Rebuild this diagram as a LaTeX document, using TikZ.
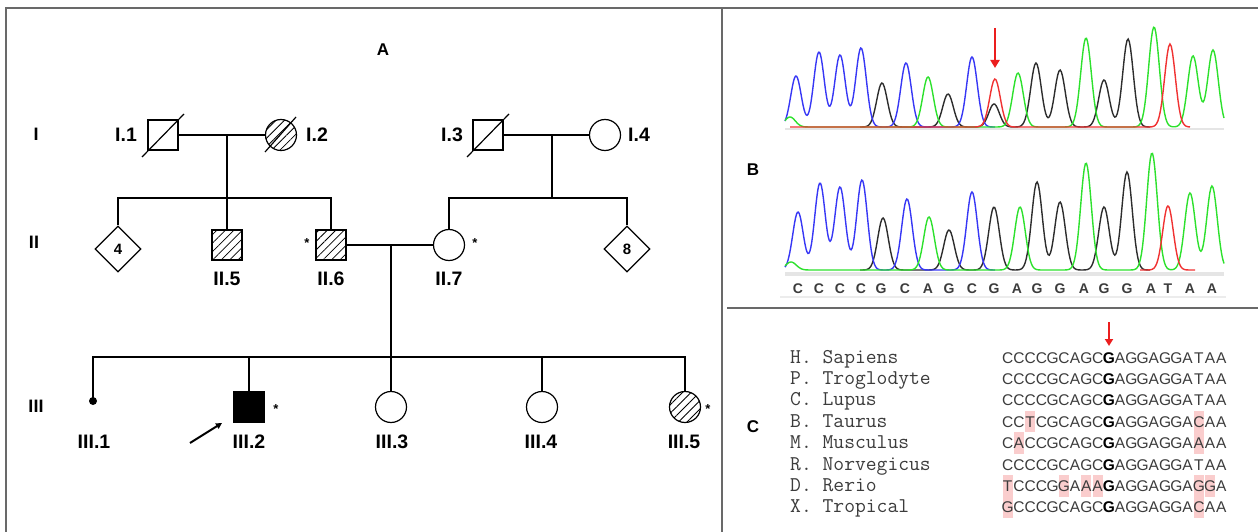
\documentclass[tikz,border=0pt]{standalone}
\usepackage{fontspec}
\setmainfont{Liberation Sans}
\usetikzlibrary{shapes.geometric,arrows.meta,patterns.meta}
\definecolor{framec}{RGB}{105,105,105}
\definecolor{chB}{RGB}{55,55,245}
\definecolor{chG}{RGB}{45,225,45}
\definecolor{chK}{RGB}{45,45,45}
\definecolor{chR}{RGB}{240,50,50}
\definecolor{txt}{RGB}{60,60,60}
\definecolor{hl}{RGB}{250,205,205}
\definecolor{arrred}{RGB}{235,30,30}
\begin{document}
\begin{tikzpicture}[x=1pt,y=-1pt,
  declare function={pk(\xa,\xb,\xc)=\xc*exp(-min(((\xa-\xb)/7.5)^2,30));},
  ped/.style={line width=1.2pt, draw=black},
  male/.style={ped, rectangle, minimum size=30pt, inner sep=0pt},
  female/.style={ped, circle, minimum size=31pt, inner sep=0pt},
  unk/.style={ped, diamond, minimum width=46pt, minimum height=46pt, inner sep=0pt, font=\bfseries\fontsize{15}{15}\selectfont},
  hatch/.style={pattern={Lines[angle=45,distance=6pt,line width=0.8pt]}},
  lbl/.style={font=\bfseries\fontsize{19.5}{19.5}\selectfont, inner sep=0pt},
  gen/.style={font=\bfseries\fontsize{18}{18}\selectfont, inner sep=0pt},
  star/.style={font=\bfseries\fontsize{13}{13}\selectfont, inner sep=0pt},
  panel/.style={font=\bfseries\fontsize{17}{17}\selectfont, inner sep=0pt},
  chrom/.style={line width=1.4pt},
  baseltr/.style={font=\bfseries\fontsize{14}{14}\selectfont, text=txt, inner sep=0pt, anchor=base},
  spec/.style={font=\ttfamily\fontsize{21}{21}\selectfont\addfontfeature{FakeBold=0.6}, text=txt, inner sep=0pt, anchor=base west},
  seqch/.style={font=\fontsize{15.5}{15.5}\selectfont, text=txt, inner sep=0pt, anchor=base},
  redarrow/.style={draw=arrred, line width=2.5pt, -{Triangle[length=8pt,width=9pt]}},
  frame/.style={draw=framec, line width=2.5pt}
]
\useasboundingbox (0,0) rectangle (1258,532);

% ---------- frame ----------
\draw[frame] (6,534) -- (6,8) -- (1260,8);
\draw[frame] (722,8) -- (722,534);
\draw[frame] (727,308) -- (1260,308);

% ---------- Panel A : pedigree ----------
\node[panel] (tA) at (383,50) {A};
\node[gen] (gI) at (36,134) {I};
\node[gen] (gII) at (34,242) {II};
\node[gen] (gIII) at (36,406) {III};

% generation I
\node[male] (I1) at (163,135) {};
\node[female, hatch] (I2) at (281,135) {};
\node[male] (I3) at (488,135) {};
\node[female] (I4) at (605,135) {};
\draw[ped] ([shift={(-21,22)}]I1.center) -- ([shift={(21,-21)}]I1.center);
\draw[ped] ([shift={(-21,22)}]I3.center) -- ([shift={(21,-21)}]I3.center);
\draw[ped] ([shift={(-16,17)}]I2.center) -- ([shift={(15,-18)}]I2.center);
\node[lbl] (lI1) at (126,135) {I.1};
\node[lbl] (lI2) at (317,135) {I.2};
\node[lbl] (lI3) at (452,135) {I.3};
\node[lbl] (lI4) at (639,135) {I.4};

% generation II
\node[unk] (D4) at (118,249) {4};
\node[male, hatch] (II5) at (227,245) {};
\node[male, hatch] (II6) at (331,245) {};
\node[female] (II7) at (449,245) {};
\node[unk] (D8) at (627,249) {8};
\node[lbl] (lII5) at (227,279) {II.5};
\node[lbl] (lII6) at (331,279) {II.6};
\node[lbl] (lII7) at (449,279) {II.7};
\node[star] (sII6) at (307,243) {*};
\node[star] (sII7) at (475,243) {*};

% generation III
\node[circle, fill=black, minimum size=8pt, inner sep=0pt] (III1) at (93,401) {};
\node[male, fill=black] (III2) at (249,407) {};
\node[female] (III3) at (391,407) {};
\node[female] (III4) at (542,407) {};
\node[female, hatch] (III5) at (685,407) {};
\node[lbl] (lIII1) at (94,442) {III.1};
\node[lbl] (lIII2) at (249,442) {III.2};
\node[lbl] (lIII3) at (392,442) {III.3};
\node[lbl] (lIII4) at (541,442) {III.4};
\node[lbl] (lIII5) at (684,442) {III.5};
\node[star] (sIII2) at (276,409) {*};
\node[star] (sIII5) at (708,409) {*};

% connectors
\coordinate (m1) at (227,135);
\coordinate (s1) at (227,198);
\coordinate (m2) at (552,135);
\coordinate (s2) at (552,198);
\coordinate (m3) at (391,245);
\coordinate (s3) at (391,357);
\draw[ped] (I1.east) -- (I2.west);
\draw[ped] (I3.east) -- (I4.west);
\draw[ped] (II6.east) -- (II7.west);
\draw[ped] (m1) -- (II5.north);
\draw[ped] (D4.north) |- (s1) -| (II6.north);
\draw[ped] (m2) -- (s2);
\draw[ped] (II7.north) |- (s2) -| (D8.north);
\draw[ped] (m3) -- (III3.north);
\draw[ped] (III1.center) |- (s3) -| (III5.north);
\draw[ped] (III2.north) -- (III2.north |- s3);
\draw[ped] (III4.north) -- (III4.north |- s3);
\coordinate (pa) at (190,443);
\coordinate (pb) at (222,423);
\draw[line width=2pt, -{Triangle[length=6pt,width=6pt]}] (pa) -- (pb);

% ---------- Panel B : chromatograms ----------
\node[panel] (tB) at (753,170) {B};
% top (patient)
\draw[gray!20, line width=2pt] (785,129) -- (1224,129);
\draw[chK, chrom] plot[domain=860:1150, samples=240] (\x, {127-pk(\x,882,44)-pk(\x,948,33)-pk(\x,994,23)-pk(\x,1036,64)-pk(\x,1060,57)-pk(\x,1104,47)-pk(\x,1128,88)});
\draw[chB, chrom] plot[domain=785:995, samples=220] (\x, {127-pk(\x,796,51)-pk(\x,819,75)-pk(\x,840,72)-pk(\x,861,79)-pk(\x,906,64)-pk(\x,972,70)});
\draw[chG, chrom] plot[domain=785:1224, samples=400] (\x, {127-pk(\x,790,10)-pk(\x,928,50)-pk(\x,1018,54)-pk(\x,1086,89)-pk(\x,1154,100)-pk(\x,1193,71)-pk(\x,1213,77)});
\draw[chR, chrom] plot[domain=790:1190, samples=300] (\x, {127-pk(\x,995,48)-pk(\x,1170,83)});
\coordinate (ra1) at (995,28);
\coordinate (ra2) at (995,68);
\draw[redarrow] (ra1) -- (ra2);

% bottom (reference)
\draw[gray!20, line width=4pt] (785,274) -- (1224,274);
\draw[gray!15, line width=1.5pt] (780,297) -- (1226,297);
\draw[chK, chrom] plot[domain=860:1150, samples=240] (\x, {270-pk(\x,883,52)-pk(\x,949,40)-pk(\x,994,63)-pk(\x,1037,88)-pk(\x,1060,68)-pk(\x,1104,63)-pk(\x,1127,98)});
\draw[chB, chrom] plot[domain=785:995, samples=220] (\x, {270-pk(\x,798,58)-pk(\x,820,87)-pk(\x,840,83)-pk(\x,862,90)-pk(\x,907,71)-pk(\x,972,78)});
\draw[chG, chrom] plot[domain=785:1224, samples=400] (\x, {270-pk(\x,791,8)-pk(\x,929,53)-pk(\x,1020,63)-pk(\x,1086,107)-pk(\x,1152,117)-pk(\x,1190,77)-pk(\x,1212,84)});
\draw[chR, chrom] plot[domain=1140:1195, samples=80] (\x, {270-pk(\x,1168,64)});
\foreach \ch/\xp [count=\i] in {C/798,C/819,C/840,C/861,G/881,C/905,A/928,G/949,C/972,G/994,A/1017,G/1037,G/1060,A/1084,G/1104,G/1127,A/1151,T/1168,A/1190,A/1212}
  \node[baseltr] (bl\i) at (\xp,293) {\ch};

% ---------- Panel C : alignment ----------
\node[panel] (tC) at (753,427) {C};
\foreach \r/\c in {4/3,4/18,5/2,5/18,7/1,7/6,7/8,7/9,7/18,7/19,8/1,8/18}
  \fill[hl] ({1002+(\c-1)*11.25+0.6}, {357.5+21.4*(\r-1)-10.7}) rectangle +(10.05,21.4);
\foreach \nm [count=\r] in {H. Sapiens,P. Troglodyte,C. Lupus,B. Taurus,M. Musculus,R. Norvegicus,D. Rerio,X. Tropical}
  \node[spec] (sp\r) at (790,{363+21.4*(\r-1)}) {\nm};
\foreach \sq [count=\r] in {
  {C,C,C,C,G,C,A,G,C,G,A,G,G,A,G,G,A,T,A,A},
  {C,C,C,C,G,C,A,G,C,G,A,G,G,A,G,G,A,T,A,A},
  {C,C,C,C,G,C,A,G,C,G,A,G,G,A,G,G,A,T,A,A},
  {C,C,T,C,G,C,A,G,C,G,A,G,G,A,G,G,A,C,A,A},
  {C,A,C,C,G,C,A,G,C,G,A,G,G,A,G,G,A,A,A,A},
  {C,C,C,C,G,C,A,G,C,G,A,G,G,A,G,G,A,T,A,A},
  {T,C,C,C,G,G,A,A,A,G,A,G,G,A,G,G,A,G,G,A},
  {G,C,C,C,G,C,A,G,C,G,A,G,G,A,G,G,A,C,A,A}}
{
  \foreach \ch [count=\c] in \sq {
    \ifnum\c=10
      \node[seqch, text=black, font=\bfseries\fontsize{15.5}{15.5}\selectfont] (q\r-\c) at ({1002+(\c-0.5)*11.25},{363+21.4*(\r-1)}) {\ch};
    \else
      \node[seqch] (q\r-\c) at ({1002+(\c-0.5)*11.25},{363+21.4*(\r-1)}) {\ch};
    \fi
  }
}
\coordinate (rc1) at (1109,322);
\coordinate (rc2) at (1109,346);
\draw[redarrow, line width=2pt, -{Triangle[length=7pt,width=8pt]}] (rc1) -- (rc2);
\end{tikzpicture}
\end{document}
